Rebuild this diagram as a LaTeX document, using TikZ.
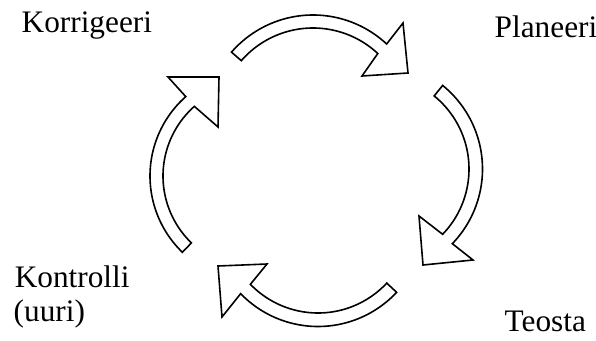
\documentclass[tikz,border=0pt]{standalone}
\usepackage{fontspec}
\setmainfont{Liberation Serif}
\begin{document}
\begin{tikzpicture}[x=1pt,y=1pt,
  cyc/.style={draw=black, fill=white, line width=1.6pt, line join=miter},
  lbl/.style={anchor=base west, inner sep=0pt, font=\fontsize{31.3}{36}\selectfont}]
\useasboundingbox[fill=white] (0,0) rectangle (596,340);
% top arrow
\draw[cyc] ([shift={(313,217)}]139:108) arc[start angle=139, end angle=47, radius=108]
  -- (403,317) -- (408,267) -- (362,264)
  -- ([shift={(313,217)}]47:95) arc[start angle=47, end angle=139, radius=95] -- cycle;
% right arrow
\draw[cyc] ([shift={(375,171)}]51:107.5) arc[start angle=51, end angle=-44, radius=107.5]
  -- (473,80) -- (423,75) -- (419,124)
  -- ([shift={(375,171)}]-44:94) arc[start angle=-44, end angle=51, radius=94] -- cycle;
% bottom arrow
\draw[cyc] ([shift={(318,121)}]-43:107.5) arc[start angle=-43, end angle=-136, radius=107.5]
  -- (222,23) -- (218,74) -- (267,76)
  -- ([shift={(318,121)}]-136:94) arc[start angle=-136, end angle=-43, radius=94] -- cycle;
% left arrow
\draw[cyc] ([shift={(256,164)}]226:106) arc[start angle=226, end angle=131.5, radius=106]
  -- (168,263) -- (219,263) -- (218,213)
  -- ([shift={(256,164)}]131.5:93) arc[start angle=131.5, end angle=226, radius=93] -- cycle;
\node[lbl] (kor) at (21.5,307) {Korrigeeri};
\node[lbl] (pla) at (494.5,302.3) {Planeeri};
\node[lbl] (kon) at (14.6,53) {Kontrolli};
\node[lbl] (uur) at (13.5,18.3) {(uuri)};
\node[lbl] (teo) at (504.5,9) {Teosta};
\end{tikzpicture}
\end{document}
